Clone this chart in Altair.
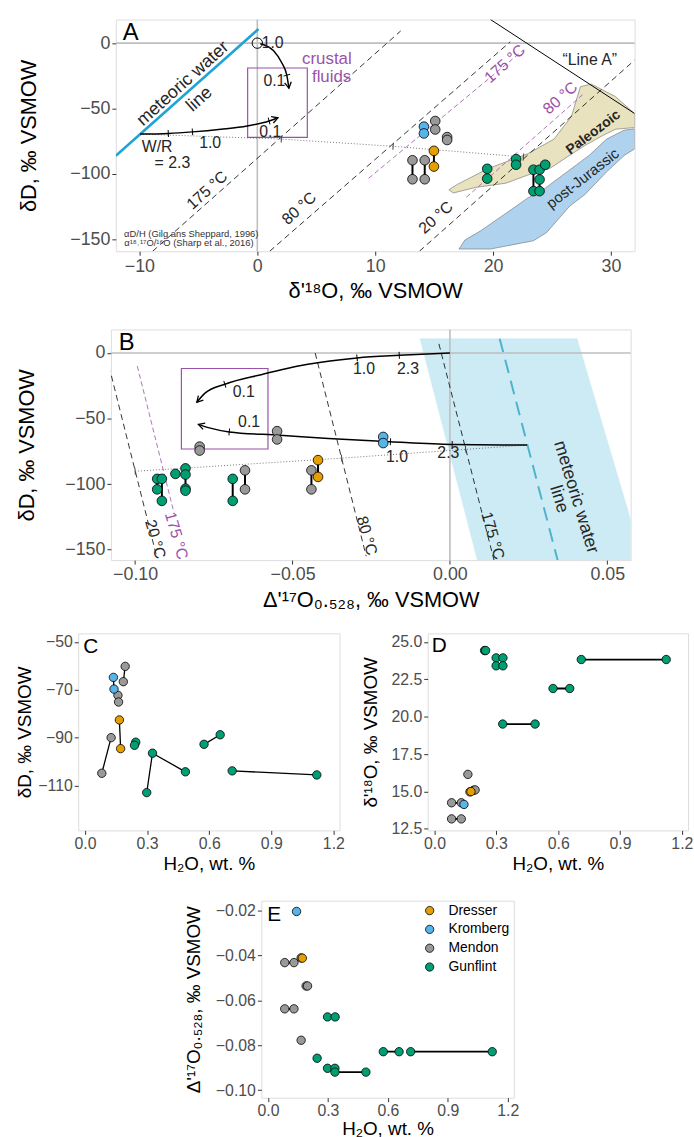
import math
import altair as alt
import pandas as pd

FONT = "Liberation Sans"
NARROW = "Liberation Sans Narrow, Liberation Sans, Arial, sans-serif"
INK = "#262626"
PURPLE = "#9B51AA"
REFGRAY = "#BEBEBE"
UNITS = ["Dresser", "Kromberg", "Mendon", "Gunflint"]
UNIT_COLORS = ["#E69F00", "#56B4E9", "#999999", "#009E73"]

# ---------------- Panel A : delta'18O vs deltaD ----------------
a_x = [15.09, 15.09, 16.10, 16.10, 13.16, 13.16, 14.20, 14.20,
       14.13, 14.13,
       14.98, 14.98,
       19.50, 19.50, 21.95, 21.95, 23.42, 23.42, 23.94, 23.94, 23.94, 24.42]
a_y = [-59.5, -66.0, -71.8, -74.0, -89.5, -104.0, -89.5, -104.0,
       -63.8, -69.0,
       -82.3, -94.3,
       -96.0, -103.5, -88.6, -92.9, -96.7, -113.1, -96.7, -104.2, -113.1, -92.9]
a_unit = ["Mendon"] * 8 + ["Kromberg"] * 2 + ["Dresser"] * 2 + ["Gunflint"] * 10
a_grp = ["m1", "m1", "m2", "m2", "m3", "m3", "m4", "m4", "k1", "k1", "d1", "d1",
         "g1", "g1", "g2", "g2", "g3", "g3", "g4", "g4", "g4", "g5"]

paleo_x = [16.25, 16.99, 19.59, 22.94, 25.17, 26.65, 27.40, 28.33, 30.37, 32.0,
           32.0, 30.37, 29.26, 27.77, 26.28, 24.80, 22.94, 21.08, 18.48, 16.62, 16.25]
paleo_y = [-112.0, -107.8, -95.8, -84.5, -73.3, -55.8, -33.3, -31.3, -40.8, -53.8,
           -64.5, -65.8, -70.8, -78.3, -87.0, -95.8, -100.8, -107.0, -110.3, -114.5, -112.0]
pj_x = [17.11, 17.60, 18.94, 21.76, 22.94, 24.42, 26.28, 28.14, 29.63, 31.12, 32.0,
        32.0, 31.12, 29.63, 27.77, 26.50, 24.54, 23.42, 19.77, 17.11]
pj_y = [-157.3, -150.5, -143.4, -125.8, -118.3, -110.8, -98.3, -85.8, -73.3, -66.5, -65.5,
        -80.8, -85.8, -98.3, -115.8, -124.5, -144.7, -151.0, -157.3, -157.3]

a_mix1_x = [0.25, 1.38, 2.12, 2.50, 2.68]
a_mix1_y = [-0.4, -5.8, -15.8, -24.5, -34.5]
a_mix2_x = [-9.94, -7.55, -5.50, -3.09, -0.86, 1.00, 1.75]
a_mix2_y = [-69.5, -69.0, -67.8, -65.8, -63.3, -59.5, -57.0]
a_dot_x = [-9.94, 2.04, 11.52, 22.57]
a_dot_y = [-69.5, -73.3, -78.8, -87.0]

a_iso_x1 = [-8.875, 1.05, 13.75]
a_iso_y1 = [-159.0, -159.0, -159.0]
a_iso_x2 = [12.16, 21.45, 32.0]
a_iso_y2 = [9.3, 1.0, -13.0]
a_isop_x1 = [9.44, 17.73]
a_isop_y1 = [-103.25, -117.75]
a_isop_x2 = [22.57, 27.58]
a_isop_y2 = [-5.25, -39.5]
a_mwl = [-12.0, -86.0, 0.1, 10.8]
a_linea = [19.78, 18.0, 32.0, -53.75]
a_box = [-0.82, -72.0, 4.24, -19.0]

# ---------------- Panel B : Delta'17O vs deltaD ----------------
b_x = [-0.0651, -0.0651, -0.0549, -0.0549, -0.0795, -0.0795, -0.0440, -0.0440,
       -0.0212, -0.0212,
       -0.0419, -0.0419,
       -0.0930, -0.0930, -0.0915, -0.0915, -0.0872, -0.0840, -0.0840, -0.0840, -0.0840, -0.0690, -0.0690]
b_y = [-89.5, -104.0, -59.6, -65.9, -71.4, -74.4, -89.5, -104.0,
       -64.0, -68.7,
       -81.7, -94.5,
       -96.0, -104.0, -96.0, -112.8, -92.2, -88.0, -92.7, -103.5, -105.0, -96.0, -112.8]
b_unit = ["Mendon"] * 8 + ["Kromberg"] * 2 + ["Dresser"] * 2 + ["Gunflint"] * 11
b_grp = ["m1", "m1", "m2", "m2", "m3", "m3", "m4", "m4", "k1", "k1", "d1", "d1",
         "g1", "g1", "g2", "g2", "g3", "g4", "g4", "g4", "g4", "g5", "g5"]

b_up_x = [0.0, -0.0161, -0.0295, -0.0456, -0.0596, -0.0715, -0.0778, -0.0804]
b_up_y = [0.0, -1.75, -3.75, -8.8, -16.3, -23.8, -30.6, -37.6]
b_lo_x = [0.0245, 0.0007, -0.0189, -0.0386, -0.0540, -0.0701, -0.0764, -0.0799]
b_lo_y = [-70.2, -69.7, -67.7, -65.2, -62.7, -60.2, -57.1, -54.4]
b_dot_x = [-0.100, -0.0344, 0.005, 0.0245]
b_dot_y = [-90.2, -80.2, -73.5, -70.2]
b_band_x = [-0.0095, 0.0404, 0.0612, 0.0087, -0.0095]
b_band_y = [11.0, 11.0, -158.0, -158.0, 11.0]
b_mwl = [0.0158, 11.0, 0.0342, -158.0]
b_iso_x1 = [-0.0035, -0.0428, -0.1083]
b_iso_y1 = [7.0, 0.0, -10.0]
b_iso_x2 = [0.0140, -0.0266, -0.0933]
b_iso_y2 = [-158.0, -155.0, -154.0]
b_isop = [-0.0993, -10.0, -0.0877, -121.5]
b_box = [-0.0853, -73.2, -0.0578, -11.8]

# ---------------- Panel C : H2O vs deltaD ----------------
c_x = [0.194, 0.185, 0.159, 0.162, 0.126, 0.081, 0.137, 0.140, 0.166, 0.172,
       0.245, 0.239, 0.298, 0.326, 0.485, 0.575, 0.653, 0.711, 1.120]
c_y = [-60.2, -66.6, -72.3, -75.1, -90.0, -104.9, -64.8, -69.7, -82.6, -94.6,
       -91.9, -93.2, -113.0, -96.5, -104.3, -92.8, -88.8, -103.9, -105.6]
c_unit = ["Mendon"] * 6 + ["Kromberg"] * 2 + ["Dresser"] * 2 + ["Gunflint"] * 9
c_grp = ["m1", "m1", "m2", "m2", "m3", "m3", "k1", "k1", "d1", "d1",
         "g1", "g1", "g2", "g2", "g2", "g3", "g3", "g4", "g4"]

# ---------------- Panel D : H2O vs delta'18O ----------------
d_x = [0.162, 0.190, 0.197, 0.083, 0.130, 0.083, 0.130, 0.143, 0.172, 0.177,
       0.243, 0.248, 0.299, 0.332, 0.299, 0.332, 0.712, 1.124, 0.575, 0.656, 0.331, 0.488]
d_y = [16.14, 15.08, 15.10, 14.24, 14.24, 13.16, 13.16, 14.13, 14.97, 14.99,
       24.43, 24.43, 23.94, 23.94, 23.41, 23.41, 23.83, 23.83, 21.89, 21.89, 19.51, 19.51]
d_unit = ["Mendon"] * 7 + ["Kromberg"] + ["Dresser"] * 2 + ["Gunflint"] * 12
d_grp = ["m0", "m1", "m1", "m2", "m2", "m3", "m3", "k1", "d1", "d1",
         "g0", "g0", "g1", "g1", "g2", "g2", "g3", "g3", "g4", "g4", "g5", "g5"]

# ---------------- Panel E : H2O vs Delta'17O ----------------
e_x = [0.166, 0.084, 0.130, 0.191, 0.198, 0.084, 0.130, 0.166, 0.143, 0.172,
       0.298, 0.336, 0.246, 0.298, 0.335, 0.335, 0.490, 0.577, 0.656, 0.714, 1.122]
e_y = [-0.0411, -0.0432, -0.0432, -0.0536, -0.0536, -0.0638, -0.0638, -0.0778, -0.0204, -0.0412,
       -0.0674, -0.0674, -0.0858, -0.0903, -0.0903, -0.0920, -0.0920, -0.0829, -0.0829, -0.0829, -0.0829]
e_unit = ["Mendon"] * 8 + ["Kromberg"] + ["Dresser"] + ["Gunflint"] * 11
e_grp = ["m0", "m1", "m1", "m2", "m2", "m3", "m3", "m4", "k1", "d1",
         "g1", "g1", "g2", "g3", "g3", "g4", "g4", "g5", "g5", "g6", "g6"]

# ---------------- annotation labels (x, y, text, angle) ----------------
a_labels = [(1.3, 0.0, "1.0", 0), (1.45, -28.8, "0.1", 0), (1.1, -67.8, "0.1", 0),
            (-8.5, -79.5, "W/R", 0), (-7.2, -92.0, "= 2.3", 0), (-4.0, -76.3, "1.0", 0),
            (28.2, -13.3, "\u201cLine A\u201d", 0)]
a_mwl_labels = [(-6.3, -31.0, "meteoric water", 318), (-4.9, -43.0, "line", 318)]
a_temp_black = [(-3.8, -117.0, "175 \u00b0C", 318), (4.0, -130.8, "80 \u00b0C", 318),
                (15.6, -137.8, "20 \u00b0C", 318)]
a_temp_purple = [(21.0, -15.8, "175 \u00b0C", 318), (25.7, -42.0, "80 \u00b0C", 318)]
a_crustal = [(5.9, -12.0, "crustal", 0), (6.3, -26.0, "fluids", 0)]
a_region_labels = [(28.5, -68.3, "Paleozoic", 323)]
a_region_labels2 = [(27.6, -103.3, "post-Jurassic", 322)]
a_refs = [(-5.6, -145.5, "\u03b1D/H (Gilg ans Sheppard, 1996)", 0),
          (-5.8, -153.0, "\u03b1\u00b9\u2078\u02d2\u00b9\u2077O/\u00b9\u2076O (Sharp et al., 2016)", 0)]

b_labels = [(-0.0273, -12.0, "1.0", 0), (-0.0133, -12.0, "2.3", 0), (-0.0655, -29.6, "0.1", 0),
            (-0.0638, -52.6, "0.1", 0), (-0.0168, -79.7, "1.0", 0), (-0.0005, -76.4, "2.3", 0)]
b_temp_black = [(0.0160, -137.8, "175 \u00b0C", 74), (-0.0240, -137.8, "80 \u00b0C", 74),
                (-0.0912, -140.4, "20 \u00b0C", 74)]
b_temp_purple = [(-0.0845, -137.8, "175 \u00b0C", 74)]
b_mwl_labels = [(0.0400, -110.0, "meteoric water", 73), (0.0346, -111.5, "line", 73)]

# ---------------- helpers ----------------
def sc(domain):
    return alt.Scale(domain=domain, nice=False, zero=False)


def axis(values, fmt, lsize, tsize, tpad, lpad=2):
    return alt.Axis(values=values, format=fmt, grid=False, domain=False, ticks=True,
                    tickColor="#333333", tickSize=4, tickWidth=1,
                    labelFont=FONT, labelFontSize=lsize, labelColor="#4D4D4D",
                    labelPadding=lpad, labelFlush=False, labelOverlap=False,
                    titleFont=FONT, titleFontSize=tsize, titleColor="black",
                    titleFontWeight="normal", titlePadding=tpad)


def make_xy(xdom, ydom, xax, yax, xt, yt):
    def X(f="x"):
        return alt.X(f, type="quantitative", scale=sc(xdom), axis=xax, title=xt)

    def Y(f="y"):
        return alt.Y(f, type="quantitative", scale=sc(ydom), axis=yax, title=yt)
    return X, Y


def points(X, Y, xs, ys, units, size, legend=None):
    df = pd.DataFrame({"x": xs, "y": ys, "unit": units})
    return alt.Chart(df).mark_circle(size=size, opacity=1, stroke="black", strokeWidth=0.8,
                                     clip=True).encode(
        x=X(), y=Y(),
        fill=alt.Fill("unit:N", scale=alt.Scale(domain=UNITS, range=UNIT_COLORS), legend=legend))


def connectors(X, Y, xs, ys, grps, width=1.6):
    df = pd.DataFrame({"x": xs, "y": ys, "grp": grps, "ord": list(range(len(xs)))})
    return alt.Chart(df).mark_line(color="black", strokeWidth=width, clip=True).encode(
        x=X(), y=Y(), detail="grp:N", order="ord:Q")


def polyline(X, Y, xs, ys, **kw):
    df = pd.DataFrame({"x": xs, "y": ys, "ord": list(range(len(xs)))})
    return alt.Chart(df).mark_line(clip=True, **kw).encode(x=X(), y=Y(), order="ord:Q")


def segments(X, Y, x1, y1, x2, y2, **kw):
    df = pd.DataFrame({"x": x1, "y": y1, "x2": x2, "y2": y2})
    return alt.Chart(df).mark_rule(clip=True, **kw).encode(
        x=X(), y=Y(), x2=alt.X2("x2"), y2=alt.Y2("y2"))


def labels(X, Y, rows, color, size, font=NARROW, weight="normal", align="center", baseline="middle"):
    df = pd.DataFrame(rows, columns=["x", "y", "t", "ang"])
    return alt.Chart(df).mark_text(font=font, fontSize=size, fontWeight=weight, color=color,
                                   align=align, baseline=baseline).encode(
        x=X(), y=Y(), text="t:N", angle=alt.Angle("ang:Q", scale=None))


def direction(x1, y1, x2, y2, sx, sy):
    return math.degrees(math.atan2(-(y2 - y1) * sy, (x2 - x1) * sx)) % 360


ARROW = "M-1,-0.55L0,0L-1,0.55"
TICK = "M0,-1L0,1"


def arrowhead(X, Y, xs, ys, sx, sy):
    ang = direction(xs[-2], ys[-2], xs[-1], ys[-1], sx, sy)
    df = pd.DataFrame({"x": [xs[-1]], "y": [ys[-1]], "ang": [ang]})
    return alt.Chart(df).mark_point(shape=ARROW, filled=False, color="black", size=150,
                                    strokeWidth=1.3, opacity=1).encode(
        x=X(), y=Y(), angle=alt.Angle("ang:Q", scale=None))


def curve_ticks(X, Y, xs, ys, idx, sx, sy, color="black"):
    rows = []
    for i in idx:
        i0 = max(i - 1, 0)
        i1 = min(i + 1, len(xs) - 1)
        rows.append((xs[i], ys[i], direction(xs[i0], ys[i0], xs[i1], ys[i1], sx, sy)))
    df = pd.DataFrame(rows, columns=["x", "y", "ang"])
    return alt.Chart(df).mark_point(shape=TICK, filled=False, color=color, size=49,
                                    strokeWidth=1, opacity=1).encode(
        x=X(), y=Y(), angle=alt.Angle("ang:Q", scale=None))


def letter(t, px, py, size):
    return alt.Chart(pd.DataFrame({"t": [t]})).mark_text(
        font=FONT, fontSize=size, color="black", align="left", baseline="middle").encode(
        x=alt.value(px), y=alt.value(py), text="t:N")


def refline(X, Y, ch, v):
    df = pd.DataFrame({ch: [v]})
    enc = {"x": X()} if ch == "x" else {"y": Y()}
    return alt.Chart(df).mark_rule(color=REFGRAY, strokeWidth=1.6).encode(**enc)


def spacer(w, h=10):
    return alt.Chart(pd.DataFrame({"v": [0]})).mark_point(opacity=0, size=1).encode(
        x=alt.value(w / 2), y=alt.value(h / 2)).properties(
        width=w, height=h, view=alt.ViewBackground(strokeWidth=0, stroke="transparent"))


# ---------------- Panel A ----------------
A_W, A_H = 524, 234
A_XD, A_YD = [-12.0, 32.0], [-159.0, 18.0]
sxA, syA = A_W / (A_XD[1] - A_XD[0]), A_H / (A_YD[1] - A_YD[0])
XA, YA = make_xy(A_XD, A_YD,
                 axis([-10, 0, 10, 20, 30], "d", 18, 22, 6),
                 axis([0, -50, -100, -150], "d", 18, 22, 30),
                 "\u03b4'\u00b9\u2078O, \u2030 VSMOW", "\u03b4D, \u2030 VSMOW")

layers_a = [
    polyline(XA, YA, paleo_x, paleo_y, fill="#E9E2BE", stroke="#6E6E6E", strokeWidth=0.6),
    polyline(XA, YA, pj_x, pj_y, fill="#AFD3EE", stroke="#6E6E6E", strokeWidth=0.6),
    refline(XA, YA, "y", 0), refline(XA, YA, "x", 0),
    segments(XA, YA, a_iso_x1, a_iso_y1, a_iso_x2, a_iso_y2, color="black", strokeWidth=0.8,
             strokeDash=[6, 4]),
    segments(XA, YA, a_isop_x1, a_isop_y1, a_isop_x2, a_isop_y2, color=PURPLE, strokeWidth=0.8,
             strokeDash=[5, 3]),
    segments(XA, YA, [a_mwl[0]], [a_mwl[1]], [a_mwl[2]], [a_mwl[3]], color="#1FA2D4", strokeWidth=2.6),
    segments(XA, YA, [a_linea[0]], [a_linea[1]], [a_linea[2]], [a_linea[3]], color="black", strokeWidth=1),
    alt.Chart(pd.DataFrame({"x": [a_box[0]], "y": [a_box[1]], "x2": [a_box[2]], "y2": [a_box[3]]}))
    .mark_rect(fillOpacity=0, stroke=PURPLE, strokeWidth=1.2)
    .encode(x=XA(), y=YA(), x2=alt.X2("x2"), y2=alt.Y2("y2")),
    polyline(XA, YA, a_dot_x, a_dot_y, color="#555555", strokeWidth=0.8, strokeDash=[1, 2]),
    curve_ticks(XA, YA, a_dot_x, a_dot_y, [1, 2, 3], sxA, syA, color="#444444"),
    polyline(XA, YA, a_mix1_x, a_mix1_y, color="black", strokeWidth=1.5, interpolate="monotone"),
    polyline(XA, YA, a_mix2_x, a_mix2_y, color="black", strokeWidth=1.5, interpolate="monotone"),
    arrowhead(XA, YA, a_mix1_x, a_mix1_y, sxA, syA),
    arrowhead(XA, YA, a_mix2_x, a_mix2_y, sxA, syA),
    curve_ticks(XA, YA, a_mix1_x, a_mix1_y, [3], sxA, syA),
    curve_ticks(XA, YA, a_mix2_x, a_mix2_y, [1, 2, 5], sxA, syA),
    alt.Chart(pd.DataFrame({"x": [0.0], "y": [0.0]})).mark_point(
        shape="circle", filled=False, color="black", size=110, strokeWidth=1, opacity=1).encode(x=XA(), y=YA()),
    connectors(XA, YA, a_x, a_y, a_grp, 2.0),
    points(XA, YA, a_x, a_y, a_unit, 95),
    labels(XA, YA, a_labels, INK, 16),
    labels(XA, YA, a_mwl_labels, INK, 18),
    labels(XA, YA, a_temp_black, INK, 16, baseline="bottom"),
    labels(XA, YA, a_temp_purple, PURPLE, 16),
    labels(XA, YA, a_crustal, PURPLE, 17),
    labels(XA, YA, a_region_labels, INK, 14, weight="bold"),
    labels(XA, YA, a_region_labels2, INK, 15),
    labels(XA, YA, a_refs, "#333333", 9.5),
    letter("A", 7, 14, 24),
]
panel_a = alt.layer(*layers_a).properties(width=A_W, height=A_H)

# ---------------- Panel B ----------------
B_W, B_H = 525, 233
B_XD, B_YD = [-0.1077, 0.0574], [-158.0, 18.0]
sxB, syB = B_W / (B_XD[1] - B_XD[0]), B_H / (B_YD[1] - B_YD[0])
XB, YB = make_xy(B_XD, B_YD,
                 axis([-0.10, -0.05, 0.0, 0.05], ".2f", 18, 22, 6),
                 axis([0, -50, -100, -150], "d", 18, 22, 27),
                 "\u0394'\u00b9\u2077O\u2080.\u2085\u2082\u2088, \u2030 VSMOW", "\u03b4D, \u2030 VSMOW")

layers_b = [
    polyline(XB, YB, b_band_x, b_band_y, fill="#CDEBF4", stroke="#CDEBF4", strokeWidth=0.5),
    refline(XB, YB, "y", 0), refline(XB, YB, "x", 0),
    segments(XB, YB, [b_mwl[0]], [b_mwl[1]], [b_mwl[2]], [b_mwl[3]], color="#4FB3CB",
             strokeWidth=2, strokeDash=[14, 8]),
    segments(XB, YB, b_iso_x1, b_iso_y1, b_iso_x2, b_iso_y2, color="black", strokeWidth=0.8,
             strokeDash=[6, 4]),
    segments(XB, YB, [b_isop[0]], [b_isop[1]], [b_isop[2]], [b_isop[3]], color=PURPLE,
             strokeWidth=0.8, strokeDash=[5, 3]),
    alt.Chart(pd.DataFrame({"x": [b_box[0]], "y": [b_box[1]], "x2": [b_box[2]], "y2": [b_box[3]]}))
    .mark_rect(fillOpacity=0, stroke=PURPLE, strokeWidth=1.2)
    .encode(x=XB(), y=YB(), x2=alt.X2("x2"), y2=alt.Y2("y2")),
    polyline(XB, YB, b_dot_x, b_dot_y, color="#555555", strokeWidth=0.8, strokeDash=[1, 2]),
    curve_ticks(XB, YB, b_dot_x, b_dot_y, [0, 1, 2], sxB, syB, color="#444444"),
    polyline(XB, YB, b_up_x, b_up_y, color="black", strokeWidth=1.5, interpolate="monotone"),
    polyline(XB, YB, b_lo_x, b_lo_y, color="black", strokeWidth=1.5, interpolate="monotone"),
    arrowhead(XB, YB, b_up_x, b_up_y, sxB, syB),
    arrowhead(XB, YB, b_lo_x, b_lo_y, sxB, syB),
    curve_ticks(XB, YB, b_up_x, b_up_y, [1, 2, 5], sxB, syB),
    curve_ticks(XB, YB, b_lo_x, b_lo_y, [1, 2, 5], sxB, syB),
    connectors(XB, YB, b_x, b_y, b_grp, 2.0),
    points(XB, YB, b_x, b_y, b_unit, 95),
    labels(XB, YB, b_labels, INK, 16),
    labels(XB, YB, b_temp_black, INK, 16, baseline="top"),
    labels(XB, YB, b_temp_purple, PURPLE, 16, baseline="top"),
    labels(XB, YB, b_mwl_labels, INK, 18),
    letter("B", 8, 14, 24),
]
panel_b = alt.layer(*layers_b).properties(width=B_W, height=B_H)

# ---------------- Panels C, D, E ----------------
H2O_AX = axis([0, 0.3, 0.6, 0.9, 1.2], ".1f", 16, 19, 3, 1)
H2O_AX_E = axis([0, 0.3, 0.6, 0.9, 1.2], ".1f", 16, 19, 1, 1)
H2O_T = "H\u2082O, wt. %"
H2O_D = [-0.033, 1.23]

XC, YC = make_xy(H2O_D, [-128.8, -46.4], H2O_AX,
                 axis([-50, -70, -90, -110], "d", 16, 19, 3),
                 H2O_T, "\u03b4D, \u2030 VSMOW")
panel_c = alt.layer(
    connectors(XC, YC, c_x, c_y, c_grp, 1.3),
    points(XC, YC, c_x, c_y, c_unit, 72),
    letter("C", 5, 14, 21),
).properties(width=264, height=199)

XD, YD = make_xy(H2O_D, [12.39, 25.58], H2O_AX,
                 axis([12.5, 15.0, 17.5, 20.0, 22.5, 25.0], ".1f", 16, 19, 11),
                 H2O_T, "\u03b4'\u00b9\u2078O, \u2030 VSMOW")
panel_d = alt.layer(
    connectors(XD, YD, d_x, d_y, d_grp, 1.8),
    points(XD, YD, d_x, d_y, d_unit, 72),
    letter("D", 4, 13, 21),
).properties(width=263, height=199)

XE, YE = make_xy(H2O_D, [-0.1034, -0.0156], H2O_AX_E,
                 axis([-0.02, -0.04, -0.06, -0.08, -0.10], ".2f", 16, 19, 12),
                 H2O_T, "\u0394'\u00b9\u2077O\u2080.\u2085\u2082\u2088, \u2030 VSMOW")
legend_e = alt.Legend(orient="none", legendX=163, legendY=3, title=None, padding=0,
                      labelFont=FONT, labelFontSize=14, labelColor="black", labelOffset=12,
                      symbolType="circle", symbolSize=70, symbolStrokeColor="black",
                      symbolStrokeWidth=0.8, symbolOpacity=1, rowPadding=5)
panel_e = alt.layer(
    connectors(XE, YE, e_x, e_y, e_grp, 1.8),
    points(XE, YE, e_x, e_y, e_unit, 72, legend=legend_e),
    letter("E", 6, 15, 21),
).properties(width=255, height=199)


def indep(ch):
    return ch.resolve_scale(x="independent", y="independent", fill="independent")


row_a = indep(alt.hconcat(spacer(16), panel_a, spacing=0))
row_b = indep(alt.hconcat(spacer(14), panel_b, spacing=0))
row_cd = indep(alt.hconcat(spacer(15), indep(alt.hconcat(panel_c, panel_d, spacing=15)), spacing=0))
row_e = indep(alt.hconcat(spacer(186), panel_e, spacing=0))

top = indep(alt.vconcat(row_a, row_b, spacing=25))
bottom = indep(alt.vconcat(row_cd, row_e, spacing=26))

chart = indep(alt.vconcat(top, bottom, spacing=21)).properties(
    padding={"left": 0, "top": 12, "right": 0, "bottom": 0}
).configure_view(stroke="#333333", strokeWidth=1.2).configure(font=FONT)

chart.save("out.html", embed_options={"renderer": "svg", "actions": False})
